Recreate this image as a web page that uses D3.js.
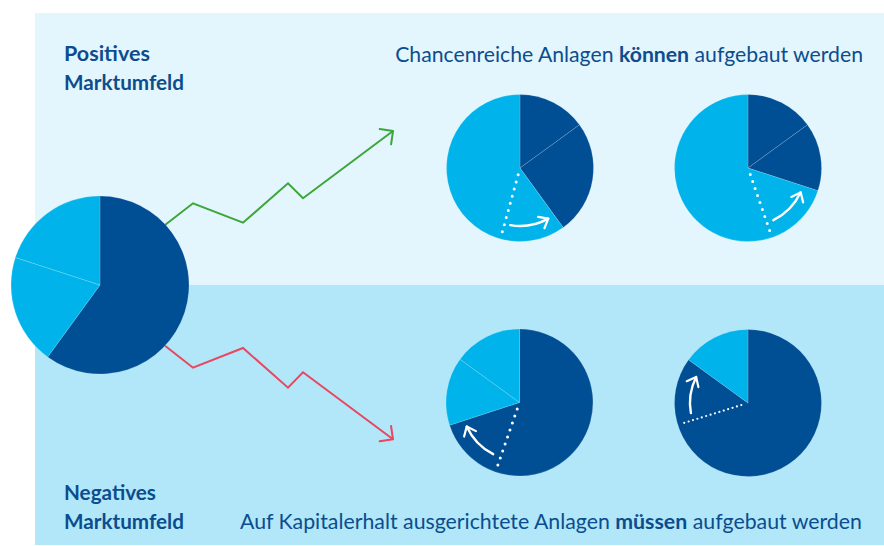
<!DOCTYPE html>
<html><head><meta charset="utf-8">
<script src="https://cdn.jsdelivr.net/npm/d3@7"></script>
<style>
body{margin:0;background:#fff}
svg{display:block}
text{font-family:Lato,"Open Sans",sans-serif}
</style>
</head><body>
<svg id="c" width="884" height="546"></svg>
<script>
// ---------- data ----------
const pieNames   = ["start", "pos1", "pos2", "neg1", "neg2"];
const pieValues  = [[60, 20, 20], [15, 25, 60], [15, 15, 70], [70, 15, 15], [85, 15]];
const pieKinds   = [["K","C","C"], ["K","K","C"], ["K","K","C"], ["K","C","C"], ["K","C"]]; // K = Kapitalerhalt, C = chancenreich
const dottedAt   = [null, 54.3, 44.7, 55.3, 70.2];   // percent of circle
const arrowFrom  = [null, 52.7, 42.8, 57.5, 72.2];
const arrowTo    = [null, 41.9, 31.9, 68.2, 82.4];

const trendUpX   = [0, 28, 78, 123, 138, 228];
const trendUpY   = [0, 21.7, 2.3, 41.7, 26.7, 94];
const trendDownX = [0, 28, 78, 123, 138, 228];
const trendDownY = [0, -22, -2.3, -42, -26.6, -93.6];

const topLabel    = ["Positives", "Marktumfeld"];
const bottomLabel = ["Negatives", "Marktumfeld"];
const topSentence    = [["Chancenreiche Anlagen ", false], ["können", true], [" aufgebaut werden", false]];
const bottomSentence = [["Auf Kapitalerhalt ausgerichtete Anlagen ", false], ["müssen", true], [" aufgebaut werden", false]];

// ---------- layout ----------
const W = 884, H = 546;
const colors = {K: "#004e94", C: "#00b4eb"};
const textColor = "#0b4d8e";
const pieLayout = {
  start: {cx: 100,   cy: 285,   r: 89},
  pos1:  {cx: 520,   cy: 168,   r: 73.5},
  pos2:  {cx: 748,   cy: 168,   r: 73.5},
  neg1:  {cx: 519.5, cy: 402.5, r: 73.5},
  neg2:  {cx: 748,   cy: 403,   r: 73.5}
};

const svg = d3.select("#c");

// backgrounds
svg.append("rect").attr("x", 35).attr("y", 13).attr("width", W - 35).attr("height", 272).attr("fill", "#e3f5fd");
svg.append("rect").attr("x", 35).attr("y", 285).attr("width", W - 35).attr("height", 260).attr("fill", "#b1e7f8");

// markers
const defs = svg.append("defs");
function marker(id, color, len, w) {
  defs.append("marker").attr("id", id)
    .attr("viewBox", "-16 -16 32 32").attr("markerWidth", 32).attr("markerHeight", 32)
    .attr("markerUnits", "userSpaceOnUse").attr("refX", 0).attr("refY", 0).attr("orient", "auto")
    .append("path").attr("d", `M${-len},${-len} L0,0 L${-len},${len}`)
    .attr("fill", "none").attr("stroke", color).attr("stroke-width", w)
    .attr("stroke-linecap", "round").attr("stroke-linejoin", "round");
}
marker("ag", "#3da639", 9.5, 2);
marker("ar", "#e8475f", 9.5, 2);
defs.append("marker").attr("id", "aw")
  .attr("viewBox", "-16 -16 32 32").attr("markerWidth", 32).attr("markerHeight", 32)
  .attr("markerUnits", "userSpaceOnUse").attr("refX", 0).attr("refY", 0).attr("orient", "auto")
  .append("path").attr("d", "M-8,-6.5 L0,0 L-8,6.5")
  .attr("fill", "none").attr("stroke", "#fff").attr("stroke-width", 2.2)
  .attr("stroke-linecap", "round").attr("stroke-linejoin", "round");

// trend lines
const tx = d3.scaleLinear().domain([0, 228]).range([165, 393]);
const tyUp = d3.scaleLinear().domain([0, 94]).range([225, 131]);
const tyDown = d3.scaleLinear().domain([0, -93.6]).range([345.7, 439.3]);
const line = d3.line();
svg.append("path")
  .attr("d", line(trendUpX.map((x, i) => [tx(x), tyUp(trendUpY[i])])))
  .attr("fill", "none").attr("stroke", "#3da639").attr("stroke-width", 2)
  .attr("stroke-linejoin", "miter").attr("marker-end", "url(#ag)");
svg.append("path")
  .attr("d", line(trendDownX.map((x, i) => [tx(x), tyDown(trendDownY[i])])))
  .attr("fill", "none").attr("stroke", "#e8475f").attr("stroke-width", 2)
  .attr("stroke-linejoin", "miter").attr("marker-end", "url(#ar)");

// pies
const ang = d3.scaleLinear().domain([0, 100]).range([0, 2 * Math.PI]);
const pie = d3.pie().sort(null).value(d => d);
pieNames.forEach((name, i) => {
  const L = pieLayout[name];
  const g = svg.append("g").attr("transform", `translate(${L.cx},${L.cy})`);
  const arc = d3.arc().innerRadius(0).outerRadius(L.r);
  g.selectAll("path.slice").data(pie(pieValues[i])).join("path")
    .attr("class", "slice")
    .attr("d", arc)
    .attr("fill", (d, j) => colors[pieKinds[i][j]])
    .attr("stroke", "rgba(255,255,255,0.22)").attr("stroke-width", 0.7);

  if (dottedAt[i] != null) {
    const a = ang(dottedAt[i]);
    const r0 = 7, r1 = L.r - 3;
    const dense = name === "neg2";
    g.append("line")
      .attr("x1", Math.sin(a) * r0).attr("y1", -Math.cos(a) * r0)
      .attr("x2", Math.sin(a) * r1).attr("y2", -Math.cos(a) * r1)
      .attr("stroke", "#fff").attr("stroke-width", dense ? 2.2 : 3)
      .attr("stroke-linecap", "round")
      .attr("stroke-dasharray", dense ? "0 4.6" : "0 7.4");
  }
  if (arrowFrom[i] != null) {
    const a0 = ang(arrowFrom[i]) - Math.PI / 2, a1 = ang(arrowTo[i]) - Math.PI / 2;
    const rr = 58;
    const p = d3.path();
    p.moveTo(Math.cos(a0) * rr, Math.sin(a0) * rr);
    p.arc(0, 0, rr, a0, a1, a1 < a0);
    g.append("path").attr("d", p.toString())
      .attr("fill", "none").attr("stroke", "#fff").attr("stroke-width", 2.4)
      .attr("stroke-linecap", "round").attr("marker-end", "url(#aw)");
  }
});

// texts
function fit(sel, width) {
  const fs = +sel.attr("font-size");
  const w = sel.node().getComputedTextLength();
  sel.attr("font-size", fs * width / w);
}
function label(lines, x, y0, widths) {
  lines.forEach((s, i) => {
    const t = svg.append("text").attr("x", x).attr("y", y0 + i * 29)
      .attr("font-size", 20).attr("font-weight", 700).attr("fill", textColor).text(s);
    fit(t, widths[i]);
  });
}
label(topLabel, 64, 61, [86, 120]);
label(bottomLabel, 64, 500, [92, 120]);

function sentence(parts, x, y, anchor, width) {
  const t = svg.append("text").attr("x", x).attr("y", y).attr("text-anchor", anchor)
    .attr("font-size", 20).attr("fill", textColor);
  parts.forEach(([s, b]) => t.append("tspan").attr("font-weight", b ? 700 : 400).text(s));
  fit(t, width);
}
sentence(topSentence, 863, 62, "end", 468);
sentence(bottomSentence, 240, 529, "start", 622);
</script>
</body></html>
